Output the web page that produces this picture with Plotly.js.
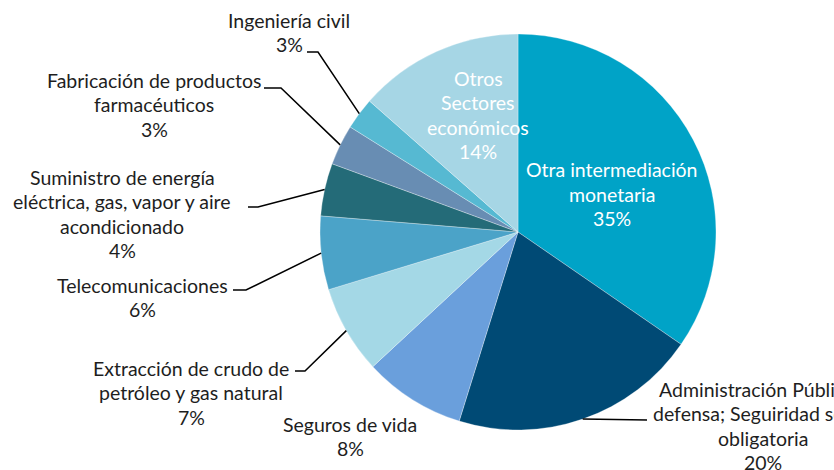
<!DOCTYPE html>
<html>
<head>
<meta charset="utf-8">
<script src="https://cdn.plot.ly/plotly-3.0.1.min.js"></script>
<style>html,body{margin:0;padding:0;background:#fff}#chart{width:834px;height:470px}</style>
</head>
<body>
<div id="chart"></div>
<script>
// Data
var sectors = [
  "Otra intermediación monetaria",
  "Administración Pública y defensa; Seguiridad social obligatoria",
  "Seguros de vida",
  "Extracción de crudo de petróleo y gas natural",
  "Telecomunicaciones",
  "Suministro de energía eléctrica, gas, vapor y aire acondicionado",
  "Fabricación de productos farmacéuticos",
  "Ingeniería civil",
  "Otros Sectores económicos"
];
var shares = [34.6, 20.2, 8.3, 7.2, 6.0, 4.3, 3.3, 2.6, 13.5];
var pctLabels = ["35%", "20%", "8%", "7%", "6%", "4%", "3%", "3%", "14%"];
var labelLines = [
  ["Otra intermediación", "monetaria"],
  ["Administración Pública y", "defensa; Seguiridad social", "obligatoria"],
  ["Seguros de vida"],
  ["Extracción de crudo de", "petróleo y gas natural"],
  ["Telecomunicaciones"],
  ["Suministro de energía", "eléctrica, gas, vapor y aire", "acondicionado"],
  ["Fabricación de productos", "farmacéuticos"],
  ["Ingeniería civil"],
  ["Otros", "Sectores", "económicos"]
];
var colors = ["#00A3C7", "#004A75", "#6A9FDC", "#A4D8E6", "#4BA3C8", "#246B78", "#688DB3", "#56B9D2", "#A6D6E5"];

// Layout geometry (pixels)
var W = 834, H = 470;
var cx = 518, cy = 232, R = 198;
var labelPos = [ // block centre of each label
  [612, 194], [763, 426], [350, 436.5], [191, 392.5], [142, 297.5],
  [122, 214], [154, 104.5], [289, 32.5], [478, 115]
];
var inside = [true, false, false, false, false, false, false, false, true];
var elbows = [ // leader start & elbow (pixels), null = no leader
  null, [[647, 420]], null, [[295, 371], [305, 371]], [[233, 290], [246, 290]],
  [[248, 207], [258, 207]], [[264, 88], [281, 88]], [[307, 52], [318, 52]], null
];
var lineGap = 24.5;

function px(x) { return x / W; }
function py(y) { return 1 - y / H; }

var total = shares.reduce(function (a, b) { return a + b; }, 0);
var annotations = [], shapes = [];
var cum = 0;
shares.forEach(function (v, i) {
  var mid = (cum + v / 2) / total * 2 * Math.PI;
  cum += v;
  var lines = labelLines[i].concat([pctLabels[i]]);
  var n = lines.length;
  lines.forEach(function (t, k) {
    annotations.push({
      x: px(labelPos[i][0]), y: py(labelPos[i][1] + (k - (n - 1) / 2) * lineGap),
      xref: 'paper', yref: 'paper', text: t, showarrow: false,
      xanchor: 'center', yanchor: 'middle',
      font: {family: 'Lato, "Noto Sans", sans-serif', size: 19.5, color: inside[i] ? '#ffffff' : '#1e1e1e'}
    });
  });
  if (elbows[i]) {
    var tx = cx + R * Math.sin(mid), ty = cy - R * Math.cos(mid);
    var pts = elbows[i].concat([[tx, ty]]);
    var d = pts.map(function (p, k) { return (k ? 'L' : 'M') + px(p[0]).toFixed(5) + ',' + py(p[1]).toFixed(5); }).join(' ');
    shapes.push({type: 'path', xref: 'paper', yref: 'paper', path: d, line: {color: '#000000', width: 1.5}});
  }
});

var trace = {
  type: 'pie',
  labels: sectors,
  values: shares,
  sort: false,
  direction: 'clockwise',
  rotation: 0,
  textinfo: 'none',
  hoverinfo: 'label+percent',
  marker: {colors: colors, line: {color: 'rgba(255,255,255,0.6)', width: 0.5}},
  domain: {x: [px(cx - R), px(cx + R)], y: [py(cy + R), py(cy - R)]},
  showlegend: false
};

var layout = {
  width: W, height: H,
  margin: {l: 0, r: 0, t: 0, b: 0},
  paper_bgcolor: '#ffffff',
  showlegend: false,
  annotations: annotations,
  shapes: shapes
};

Plotly.newPlot('chart', [trace], layout, {displayModeBar: false, staticPlot: true});
</script>
</body>
</html>
